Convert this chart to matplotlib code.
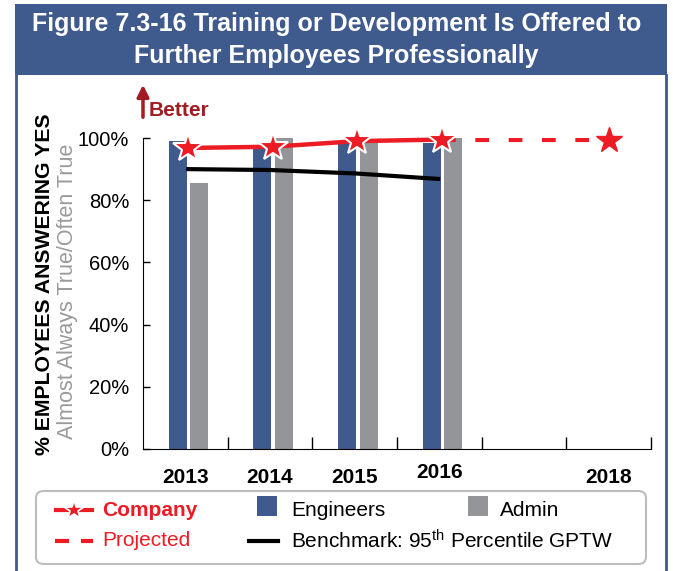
import numpy as np
import matplotlib.pyplot as plt
from matplotlib.patches import Rectangle, FancyBboxPatch
from matplotlib.lines import Line2D
from matplotlib.transforms import ScaledTranslation

plt.rcParams['font.family'] = ['Liberation Sans', 'DejaVu Sans']
plt.rcParams['mathtext.default'] = 'regular'

# survey results, % answering almost always / often true
years = ['2013', '2014', '2015', '2016', '', '2018']
engineers = [99, 97.2, 98.4, 98.4]
admin = [85.4, 100, 98.8, 100]
company = [96.8, 97.2, 99.0, 99.5]
projected = [99.5, 99.5]          # 2016 -> 2018
benchmark = [90.0, 89.7, 88.6, 86.8]

navy = '#3F5A8C'
grey = '#939598'
red = '#ED1C24'
darkred = '#A11D21'

W, H = 673, 571
fig = plt.figure(figsize=(W / 100, H / 100), dpi=100)

def fx(px):
    return px / W

def fy(py):
    return 1 - py / H

# title band and side borders
fig.patches.append(Rectangle((fx(15), fy(75)), fx(667 - 15), (75 - 4) / H,
                             transform=fig.transFigure, facecolor=navy, edgecolor='none'))
fig.lines.append(Line2D([fx(16), fx(16)], [0, fy(75)], transform=fig.transFigure, color=navy, lw=2))
fig.lines.append(Line2D([fx(666), fx(666)], [0, fy(75)], transform=fig.transFigure, color=navy, lw=2))
fig.text(0.5, fy(24), 'Figure 7.3-16 Training or Development Is Offered to', color='white',
         fontsize=18, fontweight='bold', ha='center', va='center')
fig.text(0.5, fy(56), 'Further Employees Professionally', color='white',
         fontsize=18, fontweight='bold', ha='center', va='center')

ax = fig.add_axes([fx(143), 122 / H, fx(651 - 143), 311 / H])
x = np.arange(len(years))
n = len(engineers)

ax.bar(x[:n] - 0.09, engineers, width=0.213, color=navy, zorder=2)
ax.bar(x[:n] + 0.165, admin, width=0.213, color=grey, zorder=2)
ax.plot(x[:n] + 0.01, benchmark, color='black', lw=3, solid_capstyle='butt', zorder=3)
ax.plot([x[3] + 0.03, x[5]], projected, color=red, lw=3, dashes=(3.3, 4.7), zorder=4)
ax.plot(x[5], projected[-1], marker='*', ms=19, color=red, mec=red, zorder=5, clip_on=False)
ax.plot(x[:n] + 0.03, company, color=red, lw=3.2, marker='*', ms=22, mfc=red, mec='white',
        mew=1.5, zorder=6, clip_on=False)

ax.set_xlim(-0.5, 5.5)
ax.set_ylim(0, 100)
ax.set_yticks(range(0, 101, 20))
ax.set_yticklabels([f'{v}%' for v in range(0, 101, 20)], fontsize=14.5)
ax.tick_params(axis='y', direction='in', length=5, width=1, pad=10)
ax.set_xticks(x)
ax.set_xticklabels(years, fontsize=15, fontweight='bold')
ax.set_xticks(np.arange(0.5, 5.6, 1), minor=True)
ax.tick_params(axis='x', which='major', length=0, pad=14)
ax.tick_params(axis='x', which='minor', direction='in', length=9, width=1)
lbl16 = ax.xaxis.get_majorticklabels()[3]
lbl16.set_transform(lbl16.get_transform() + ScaledTranslation(0, 4 / 72, fig.dpi_scale_trans))
for s in ('top', 'right'):
    ax.spines[s].set_visible(False)

fig.text(fx(45), fy(284), '% EMPLOYEES ANSWERING YES', rotation=90, fontsize=15.3,
         fontweight='bold', ha='center', va='center')
fig.text(fx(68), fy(291), 'Almost Always True/Often True', rotation=90, fontsize=15.5,
         color='#9A9A9A', ha='center', va='center')

# "Better" arrow
ax.annotate('', xy=(fx(143), fy(82)), xytext=(fx(143), fy(120)), xycoords='figure fraction',
            arrowprops=dict(arrowstyle='-|>,head_length=0.7,head_width=0.35', color=darkred, lw=2.5))
fig.text(fx(149), fy(111), 'Better', color=darkred, fontsize=15, fontweight='bold', va='center')

# legend
fig.patches.append(FancyBboxPatch((fx(36), fy(564)), fx(646 - 36), (564 - 491) / H,
                                  boxstyle='round,pad=0,rounding_size=0.012',
                                  transform=fig.transFigure, facecolor='white',
                                  edgecolor='#BDBDBD', lw=1.5))
r1, r2 = fy(510), fy(541)
fig.lines.append(Line2D([fx(56), fx(92)], [r1, r1], transform=fig.transFigure, color=red, lw=3))
fig.lines.append(Line2D([fx(74)], [r1], transform=fig.transFigure, marker='*', ms=15,
                        color=red, mec='white', mew=1.2))
fig.text(fx(102), r1, 'Company', color=red, fontsize=15, fontweight='bold', va='center')
for a, b in ((55, 69), (81, 93)):
    fig.lines.append(Line2D([fx(a), fx(b)], [r2, r2], transform=fig.transFigure, color=red, lw=3,
                            solid_capstyle='butt'))
fig.text(fx(102), r2, 'Projected', color=red, fontsize=15, va='center')
fig.patches.append(Rectangle((fx(257), fy(516)), fx(20), 20 / H, transform=fig.transFigure,
                             facecolor=navy, edgecolor='none'))
fig.text(fx(291), r1, 'Engineers', fontsize=15, va='center')
fig.patches.append(Rectangle((fx(468), fy(516)), fx(20), 20 / H, transform=fig.transFigure,
                             facecolor=grey, edgecolor='none'))
fig.text(fx(500), r1, 'Admin', fontsize=15, va='center')
fig.lines.append(Line2D([fx(249), fx(278)], [r2, r2], transform=fig.transFigure, color='black', lw=3))
fig.text(fx(291), r2, 'Benchmark: 95$^{th}$ Percentile GPTW', fontsize=15, va='center')

fig.savefig('out.png', dpi=100)
